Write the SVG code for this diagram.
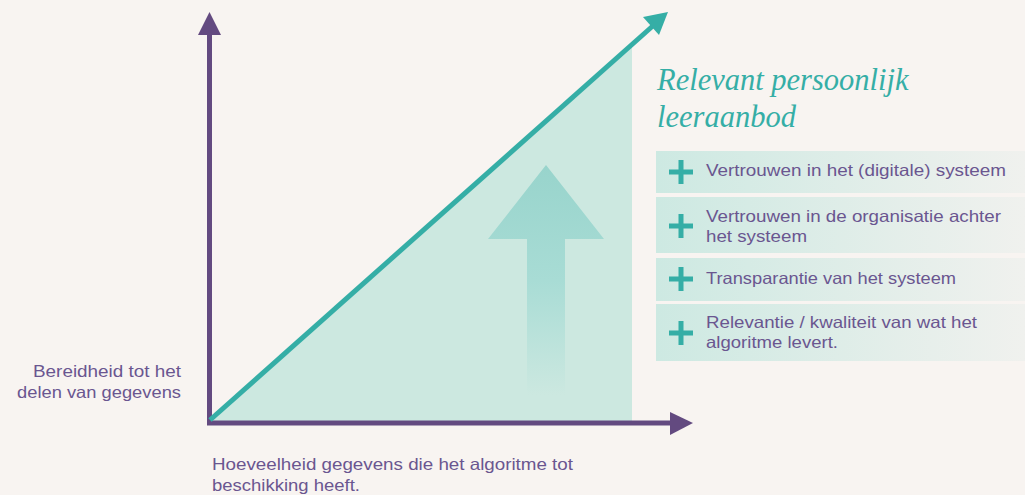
<svg xmlns="http://www.w3.org/2000/svg" width="1025" height="495" viewBox="0 0 1025 495">
<defs>
<linearGradient id="boxg" x1="0" y1="0" x2="1" y2="0">
<stop offset="0" stop-color="#cde9e2"/>
<stop offset="1" stop-color="#f0f1ee"/>
</linearGradient>
<linearGradient id="upg" x1="0" y1="0" x2="0" y2="1">
<stop offset="0" stop-color="#98d4cc"/>
<stop offset="0.5" stop-color="#a8dcd5"/>
<stop offset="1" stop-color="#cce8e0"/>
</linearGradient>
<style>
.lbl{font-family:"Liberation Sans",sans-serif;font-size:16.5px;fill:#6a5690}
.ax{font-family:"Liberation Sans",sans-serif;font-size:16.5px;fill:#6a5690}
.ttl{font-family:"Liberation Serif",serif;font-style:italic;font-size:30.5px;fill:#35aea6}
.plus{stroke:#35aea6;stroke-width:5;fill:none}
.box{fill:url(#boxg)}
</style>
</defs>
<rect width="1025" height="495" fill="#f8f4f1"/>
<g id="area">
<polygon points="209,423 632,46 632,423" fill="#cce8e0"/>
<polygon points="546,165 604,239 565,239 565,395 527,395 527,239 488,239" fill="url(#upg)"/>
</g>
<g id="connectors">
<line x1="209.5" y1="425" x2="209.5" y2="33" stroke="#634a80" stroke-width="5"/>
<polygon points="209.5,12 221,35 198,35" fill="#634a80"/>
<line x1="207" y1="423" x2="672" y2="423" stroke="#634a80" stroke-width="5"/>
<polygon points="693,423 670,412 670,435" fill="#634a80"/>
<line x1="210" y1="420" x2="655" y2="24" stroke="#35aea6" stroke-width="5"/>
<polygon points="668,12 659,35 643,17" fill="#35aea6"/>
</g>
<g id="title">
<text class="ttl" x="657" y="90">Relevant persoonlijk</text>
<text class="ttl" x="657" y="127">leeraanbod</text>
</g>
<g id="item1">
<rect class="box" x="656" y="151" width="369" height="42"/>
<path class="plus" d="M669,172h24M681,160v24"/>
<text class="lbl" x="706" y="176" textLength="300" lengthAdjust="spacingAndGlyphs">Vertrouwen in het (digitale) systeem</text>
</g>
<g id="item2">
<rect class="box" x="656" y="197" width="369" height="56"/>
<path class="plus" d="M669,226h24M681,214v24"/>
<text class="lbl" x="706" y="222" textLength="295" lengthAdjust="spacingAndGlyphs">Vertrouwen in de organisatie achter</text>
<text class="lbl" x="706" y="242" textLength="101" lengthAdjust="spacingAndGlyphs">het systeem</text>
</g>
<g id="item3">
<rect class="box" x="656" y="258" width="369" height="43"/>
<path class="plus" d="M669,279h24M681,267v24"/>
<text class="lbl" x="706" y="284" textLength="250" lengthAdjust="spacingAndGlyphs">Transparantie van het systeem</text>
</g>
<g id="item4">
<rect class="box" x="656" y="304" width="369" height="57"/>
<path class="plus" d="M669,333h24M681,321v24"/>
<text class="lbl" x="706" y="328" textLength="271" lengthAdjust="spacingAndGlyphs">Relevantie / kwaliteit van wat het</text>
<text class="lbl" x="706" y="348" textLength="132" lengthAdjust="spacingAndGlyphs">algoritme levert.</text>
</g>
<g id="ylabel">
<text class="ax" x="33" y="377" textLength="148" lengthAdjust="spacingAndGlyphs">Bereidheid tot het</text>
<text class="ax" x="17" y="398" textLength="164" lengthAdjust="spacingAndGlyphs">delen van gegevens</text>
</g>
<g id="xlabel">
<text class="ax" x="212" y="470" textLength="361" lengthAdjust="spacingAndGlyphs">Hoeveelheid gegevens die het algoritme tot</text>
<text class="ax" x="212" y="491" textLength="148" lengthAdjust="spacingAndGlyphs">beschikking heeft.</text>
</g>
</svg>
